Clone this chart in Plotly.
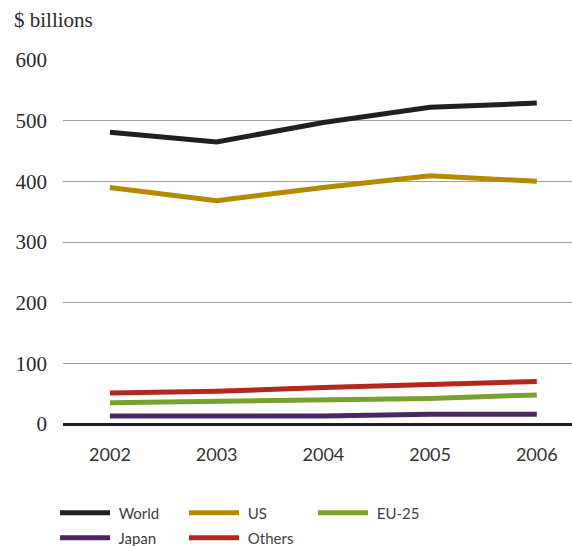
import plotly.graph_objects as go

years = [2002, 2003, 2004, 2005, 2006]
world = [481, 465, 497, 522, 529]
us = [390, 368, 390, 409, 400]
eu25 = [35, 37, 40, 42, 48]
japan = [13, 13, 13, 16, 16]
others = [51, 54, 60, 64, 70]

y_ticks = [0, 100, 200, 300, 400, 500, 600]

# (name, values, colour, legend row)
series = [
    ("World", world, "#231f20", "legend"),
    ("US", us, "#b38a00", "legend"),
    ("EU-25", eu25, "#78a22f", "legend"),
    ("Japan", japan, "#4b2760", "legend2"),
    ("Others", others, "#b5261e", "legend2"),
]

W, H = 572, 546
ML, MR, MT, MB = 63, 0, 60, 122
PW, PH = W - ML - MR, H - MT - MB


def px_x(px):
    return (px - ML) / PW


def px_y(py):
    return (H - MB - py) / PH


fig = go.Figure()
for name, vals, color, leg in series:
    fig.add_trace(go.Scatter(
        x=years, y=vals, name=" " + name, mode="lines",
        line=dict(color=color, width=5), legend=leg,
    ))

legend_style = dict(
    orientation="h",
    xref="container", yref="container",
    x=55 / W,
    xanchor="left", yanchor="middle",
    entrywidth=64, entrywidthmode="pixels",
    itemwidth=50,
    font=dict(family="Lato", size=15, color="#404040"),
    traceorder="normal",
    bgcolor="rgba(0,0,0,0)",
)

fig.update_layout(
    width=W, height=H,
    margin=dict(l=ML, r=MR, t=MT, b=MB),
    paper_bgcolor="white", plot_bgcolor="white",
    showlegend=True,
    legend=dict(legend_style, y=1 - 513 / H),
    legend2=dict(legend_style, y=1 - 538 / H),
    annotations=[dict(
        text="$ billions", xref="paper", yref="paper",
        x=px_x(12), y=px_y(20), xanchor="left", yanchor="middle",
        showarrow=False,
        font=dict(family="Liberation Serif", size=21, color="#2a2a2a"),
    )],
)

fig.update_xaxes(
    range=[2001.56, 2006.33],
    tickvals=years, ticktext=[str(y) for y in years],
    showgrid=False, zeroline=False, showline=False,
    ticks="", ticklabelstandoff=18,
    tickfont=dict(family="Lato", size=18, color="#333333"),
    fixedrange=True,
)
fig.update_yaxes(
    range=[0, 600],
    tickvals=y_ticks,
    showgrid=True, gridcolor="#a0a0a0", gridwidth=1,
    zeroline=True, zerolinecolor="#231f20", zerolinewidth=3,
    showline=False, ticks="", ticklabelstandoff=15,
    tickfont=dict(family="Liberation Serif", size=21, color="#2a2a2a"),
    fixedrange=True,
)

fig.write_html("out.html")
